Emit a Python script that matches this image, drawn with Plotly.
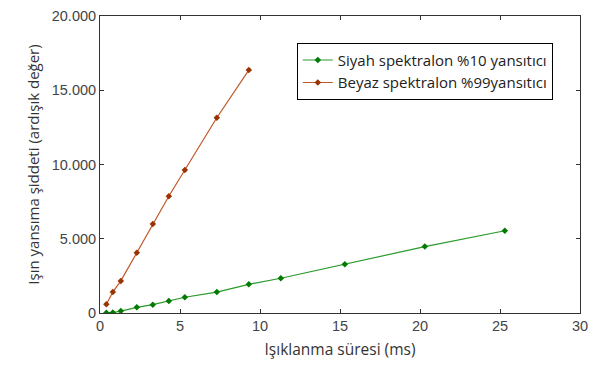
import plotly.graph_objects as go

black_x = [0.4, 0.8, 1.3, 2.3, 3.3, 4.3, 5.3, 7.3, 9.3, 11.3, 15.3, 20.3, 25.3]
black_y = [20, 30, 130, 380, 560, 810, 1060, 1410, 1930, 2340, 3280, 4470, 5540]

white_x = [0.4, 0.8, 1.3, 2.3, 3.3, 4.3, 5.3, 7.3, 9.3]
white_y = [590, 1410, 2160, 4060, 5990, 7860, 9630, 13150, 16360]

names = ["Siyah spektralon %10 yansıtıcı", "Beyaz spektralon %99yansıtıcı"]
x_ticks = [0, 5, 10, 15, 20, 25, 30]
y_ticks = [0, 5000, 10000, 15000, 20000]

fig = go.Figure()
fig.add_trace(go.Scatter(x=black_x, y=black_y, mode="lines+markers", name=names[0],
                         line=dict(color="#2a9a2a", width=1.2),
                         marker=dict(symbol="diamond", size=5, color="#007a00")))
fig.add_trace(go.Scatter(x=white_x, y=white_y, mode="lines+markers", name=names[1],
                         line=dict(color="#c0582a", width=1.2),
                         marker=dict(symbol="diamond", size=5, color="#993300")))

axis_common = dict(showline=True, linecolor="#333", linewidth=1, mirror="ticks",
                   ticks="inside", ticklen=4, tickcolor="#333", showgrid=False,
                   zeroline=False, automargin=False,
                   tickfont=dict(family="Liberation Sans", size=14.5, color="#444"))

fig.update_xaxes(range=[0, 30], tickvals=x_ticks, **axis_common,
                 title=dict(text="Işıklanma süresi (ms)", standoff=10,
                            font=dict(family="Open Sans", size=15.5, color="#333")))
fig.update_yaxes(range=[0, 20000], tickvals=y_ticks, tickformat=",d", **axis_common,
                 title=dict(text="Işın yansıma şiddeti (ardışık değer)", standoff=8,
                            font=dict(family="Open Sans", size=15, color="#333")))

fig.update_layout(
    width=600, height=365,
    margin=dict(l=100, r=20, t=16, b=52),
    paper_bgcolor="white", plot_bgcolor="white",
    separators=",.",
    legend=dict(x=0.41, y=0.91, xanchor="left", yanchor="top",
                bgcolor="white", bordercolor="black", borderwidth=1,
                font=dict(family="Open Sans", size=15, color="#222"),
                itemwidth=30, tracegroupgap=0),
)

fig.write_html("out.html")
